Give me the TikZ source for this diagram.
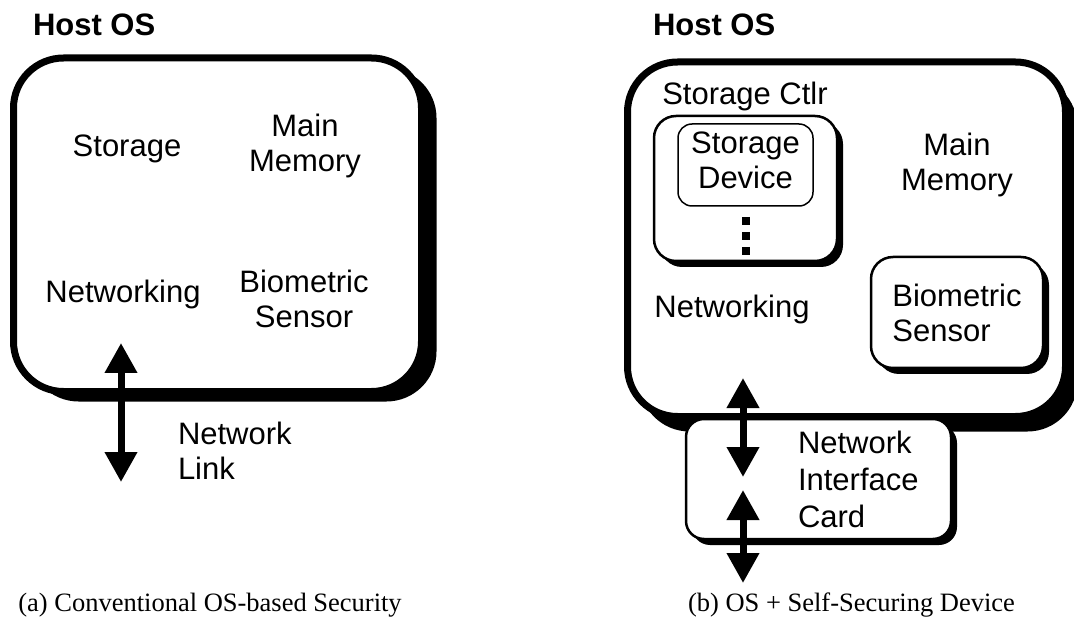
\documentclass[tikz,border=0pt]{standalone}
\usepackage{fontspec}
\setmainfont{Liberation Serif}
\setsansfont{Liberation Sans}
\usetikzlibrary{arrows.meta,shadows,positioning}

\begin{document}
\begin{tikzpicture}[x=1pt,y=-1pt,host box/.style={draw,line width=7pt,fill=white,rounded corners=50pt,inner sep=0pt,outer sep=0pt},part box/.style={draw,line width=2.5pt,fill=white,rounded corners=22pt,inner sep=0pt,outer sep=0pt,drop shadow={shadow xshift=6pt,shadow yshift=-6pt,opacity=1,fill=black}},txt/.style={inner sep=0pt,outer sep=0pt,font=\sffamily\fontsize{31}{35}\selectfont,align=center},bold txt/.style={txt,font=\sffamily\bfseries\fontsize{31}{35}\selectfont},caption text/.style={inner sep=0pt,font=\fontsize{26.5}{30}\selectfont},link arrow/.style={line width=7pt,{Triangle[width=31pt,length=30pt]}-{Triangle[width=31pt,length=30pt]}}]
            \useasboundingbox (0,0) rectangle (1074,620);

            % (a) conventional
            \node[host box,minimum width=408pt,minimum height=333.5pt,drop shadow={shadow xshift=15pt,shadow yshift=-10pt,opacity=1,fill=black}] (hostA) at (217.5,224.75) {};
            \node[bold txt,anchor=base west] (osA) at (33,36) {Host OS};
            \node[txt,anchor=base] (storA) at (127,157) {Storage};
            \node[txt] (memA) at (305,146) {Main\\Memory};
            \node[txt,anchor=base] (netA) at (123,303) {Networking};
            \node[txt] (bioA) at (304,299) {Biometric\\Sensor};
            \node[txt,align=left,anchor=west] (linkA) at (178,451) {Network\\Link};
            \coordinate (upA) at (121,343);
            \coordinate (downA) at (121,482);
            \node[caption text,anchor=base] (capA) at (210,611) {(a) Conventional OS-based Security};

            % (b) self-securing device
            \node[host box,minimum width=438pt,minimum height=354.5pt,drop shadow={shadow xshift=12pt,shadow yshift=-15pt,opacity=1,fill=black}] (hostB) at (846.5,239.25) {};
            \node[bold txt,anchor=base west] (osB) at (653,36) {Host OS};
            \node[part box,minimum width=183pt,minimum height=145pt] (ctlr) at (745.5,188.5) {};
            \node[txt,anchor=base] (ctlrtext) at (745,105) {Storage Ctlr};
            \node[draw,line width=1.5pt,fill=white,rounded corners=14pt,minimum width=135pt,minimum height=82pt,inner sep=0pt,outer sep=0pt,below=8pt of ctlr.north] (dev) {};
            \node[txt] (devtext) at ([yshift=5pt]dev.center) {Storage\\Device};
            \draw[line width=8pt,dash pattern=on 8pt off 7pt] ([yshift=-11pt]dev.south) -- ++(0,38);
            \node[txt] (memB) at (957,165) {Main\\Memory};
            \node[txt,anchor=base] (netB) at (732,318) {Networking};
            \node[part box,txt,align=left,minimum width=172pt,minimum height=111pt] (bioB) at (957,312.5) {Biometric\\Sensor};
            \node[part box,rounded corners=18pt,minimum width=265pt,minimum height=120pt] (nic) at (818.5,479) {};
            \node[txt,font=\sffamily\fontsize{31}{37}\selectfont,align=left,right=112pt of nic.west] (nictext) {Network\\Interface\\Card};
            \coordinate (upB) at (743,378);
            \coordinate (midB) at (743,477);
            \coordinate (lowB) at (743,490);
            \coordinate (downB) at (743,583);
            \node[caption text,anchor=base] (capB) at (851.5,611) {(b) OS + Self-Securing Device};

            \path
                (upA) edge [link arrow] (downA)
                (upB) edge [link arrow] (midB)
                (lowB) edge [link arrow] (downB)
            ;
        \end{tikzpicture}
\end{document}
